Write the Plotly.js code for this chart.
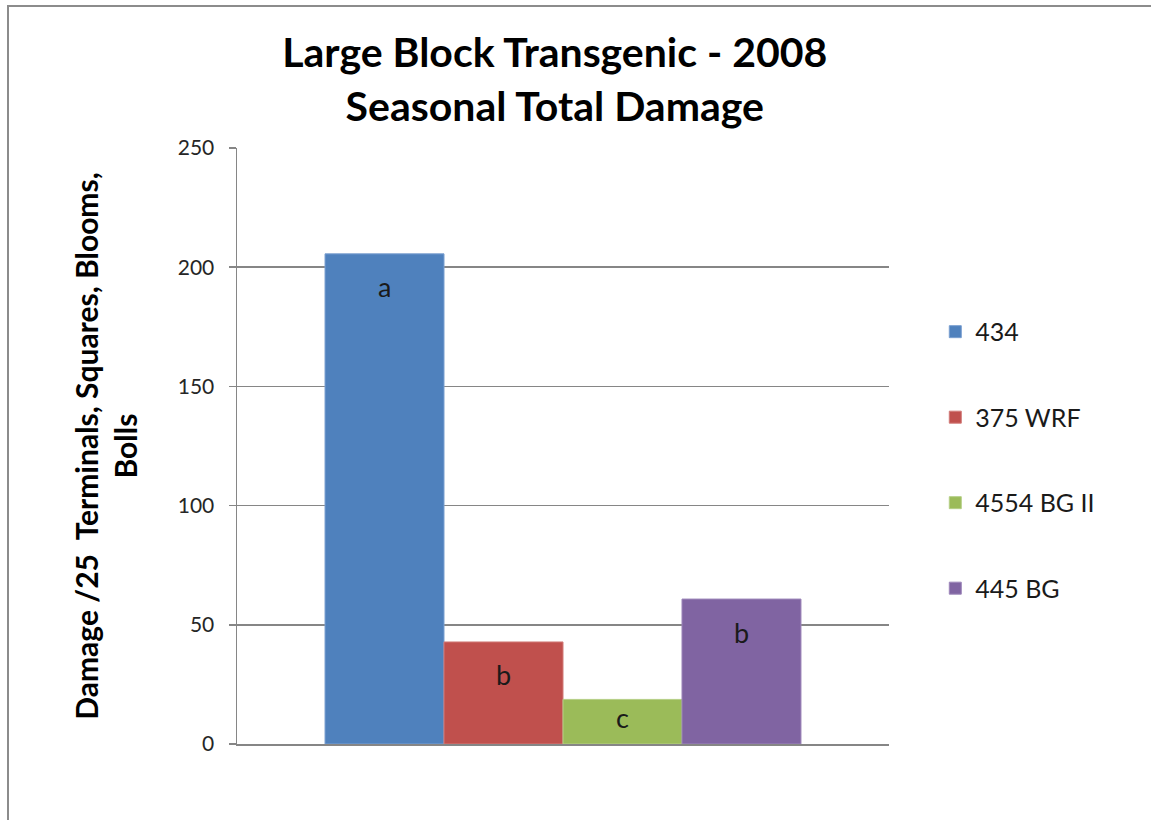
<!DOCTYPE html>
<html>
<head>
<meta charset="utf-8">
<script src="https://cdn.plot.ly/plotly-3.0.1.min.js"></script>
<style>
  html, body { margin: 0; padding: 0; background: #fff; overflow: hidden; }
  #wrap { position: relative; width: 1151px; height: 820px; }
  #frame { position: absolute; left: 7px; top: 5px; width: 1200px; height: 900px;
           border: 2px solid #8c8c8c; box-sizing: border-box; pointer-events: none; z-index: 5; }
  #chart { position: absolute; left: 0; top: 0; width: 1151px; height: 820px; }
</style>
</head>
<body>
<div id="wrap">
  <div id="chart"></div>
  <div id="frame"></div>
</div>
<script>
const category = [""];
const seriesNames = ["434", "375 WRF", "4554 BG II", "445 BG"];
const seriesValues = [205.6, 42.8, 18.7, 60.8];
const seriesLetters = ["a", "b", "c", "b"];
const seriesColors = ["#4F81BD", "#C0504D", "#9BBB59", "#8064A2"];
const seriesLines = ["#7A9FD0", "#D27B78", "#B5CF86", "#9D87BA"];
const yTicks = [0, 50, 100, 150, 200, 250];

const bargap = 0.27;
const n = seriesNames.length;
const barW = (1 - bargap) / n;

const traces = seriesNames.map((name, i) => ({
  type: 'bar',
  name: name,
  x: category,
  y: [seriesValues[i]],
  legendgroup: 'g' + i,
  marker: { color: seriesColors[i], line: { color: seriesLines[i], width: 1 } },
  hoverinfo: 'none'
}));

const annotations = seriesLetters.map((t, i) => ({
  xref: 'x', yref: 'y',
  x: -0.5 + bargap / 2 + (i + 0.5) * barW,
  y: seriesValues[i],
  yshift: -Math.min(33, seriesValues[i] * 2.387 * 0.4),
  text: t,
  showarrow: false,
  yanchor: 'middle',
  font: { family: 'Lato, "Open Sans", sans-serif', size: 27, color: '#1a1a1a' }
}));

const layout = {
  width: 1151, height: 820,
  paper_bgcolor: '#ffffff', plot_bgcolor: '#ffffff',
  margin: { l: 237, r: 262, t: 148, b: 76 },
  barmode: 'group',
  bargap: bargap,
  bargroupgap: 0,
  title: {
    text: '<b>Large Block Transgenic - 2008<br>Seasonal Total Damage</b>',
    font: { family: 'Lato, "Open Sans", sans-serif', size: 41, color: '#000' },
    x: 0.482, xanchor: 'center', yref: 'container', y: 0.918, yanchor: 'middle'
  },
  xaxis: {
    showticklabels: false, ticks: '', showgrid: false, zeroline: false,
    showline: true, linecolor: '#868686', linewidth: 1.5,
    fixedrange: true
  },
  yaxis: {
    range: [0, 250],
    tickvals: yTicks,
    ticktext: yTicks.map(String),
    ticks: 'outside', ticklen: 7, tickcolor: '#868686', tickwidth: 1.5,
    showline: true, linecolor: '#868686', linewidth: 1.5,
    showgrid: true, gridcolor: '#868686', gridwidth: 1.5,
    zeroline: false,
    tickfont: { family: 'Lato, "Open Sans", sans-serif', size: 21, color: '#262626' },
    ticklabelstandoff: 10,
    title: {
      text: '<b>Damage /25  Terminals, Squares, Blooms,<br>Bolls</b>',
      font: { family: 'Lato, "Open Sans", sans-serif', size: 30, color: '#000' },
      standoff: 31
    },
    fixedrange: true
  },
  legend: {
    x: 1.071, xanchor: 'left', y: 0.73, yanchor: 'top',
    traceorder: 'grouped', tracegroupgap: 50,
    font: { family: 'Lato, "Open Sans", sans-serif', size: 25, color: '#1a1a1a' },
    itemwidth: 30, bgcolor: 'rgba(0,0,0,0)'
  },
  annotations: annotations,
  showlegend: true
};

Plotly.newPlot('chart', traces, layout, { displayModeBar: false, staticPlot: true });
</script>
</body>
</html>
